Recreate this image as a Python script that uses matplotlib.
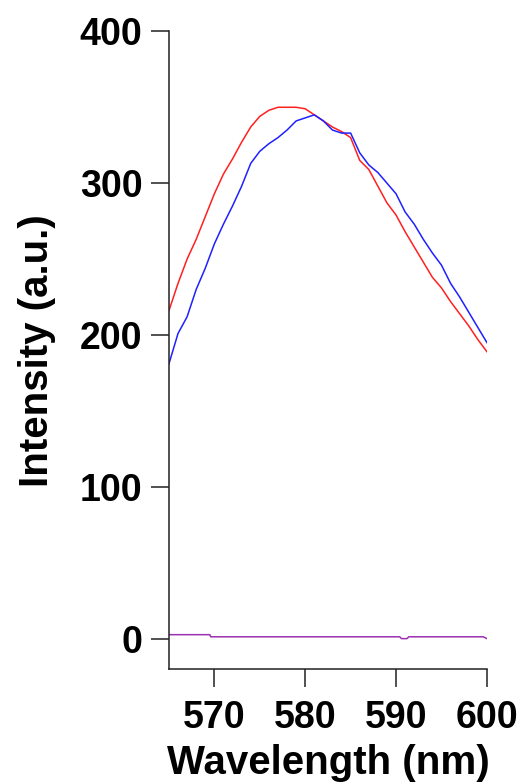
import matplotlib
matplotlib.use("Agg")
import matplotlib.pyplot as plt

wavelength = [565, 566, 567, 568, 569, 570, 571, 572, 573, 574, 575, 576,
              577, 578, 579, 580, 581, 582, 583, 584, 585, 586, 587, 588,
              589, 590, 591, 592, 593, 594, 595, 596, 597, 598, 599, 600]
red_int = [216, 234, 250, 263, 278, 293, 306, 316, 327, 337, 344, 348,
           350, 350, 350, 349, 345, 341, 337, 334, 330, 315, 309, 298,
           287, 279, 268, 258, 248, 238, 231, 222, 214, 206, 197, 189]
blue_int = [181, 201, 212, 230, 244, 260, 273, 285, 298, 313, 321, 326,
            330, 335, 341, 343, 345, 341, 335, 333, 333, 320, 312, 307,
            300, 293, 281, 273, 263, 254, 246, 234, 225, 215, 205, 195]
purple_wl = [565, 569.5, 569.6, 590.4, 590.6, 591.2, 591.4, 599.6, 600]
purple_int = [2.6, 2.6, 1.2, 1.2, 0.0, 0.0, 1.2, 1.2, 0.0]

xticks = [570, 580, 590, 600]
yticks = [0, 100, 200, 300, 400]

plt.rcParams['font.family'] = ['Liberation Sans', 'DejaVu Sans']
plt.rcParams['font.weight'] = 'bold'

fig = plt.figure(figsize=(5.23, 7.84), dpi=100)
ax = fig.add_axes([0.323, 0.1467, 0.608, 0.8133])

ax.plot(wavelength, red_int, color='#ff2020', lw=1.1)
ax.plot(wavelength, blue_int, color='#2020ff', lw=1.1)
ax.plot(purple_wl, purple_int, color='#9b30b0', lw=1.1)

ax.set_xlim(565, 600)
ax.set_ylim(-20, 400)
ax.set_xticks(xticks)
ax.set_yticks(yticks)

for s in ['top', 'right']:
    ax.spines[s].set_visible(False)
for s in ['left', 'bottom']:
    ax.spines[s].set_linewidth(1.1)
    ax.spines[s].set_color('#222222')

ax.tick_params(axis='both', direction='out', length=13, width=1.1,
               color='#222222', labelsize=27)
ax.tick_params(axis='y', pad=6)
ax.tick_params(axis='x', pad=9)

ax.set_xlabel('Wavelength (nm)', fontsize=29, fontweight='bold', labelpad=6)
ax.set_ylabel('Intensity (a.u.)', fontsize=29, fontweight='bold', labelpad=17)

fig.savefig('out.png', dpi=100)
